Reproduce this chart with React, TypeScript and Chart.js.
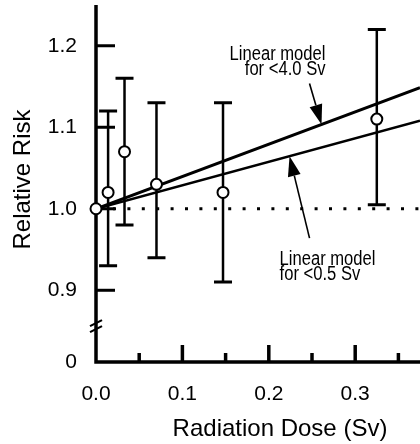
import React, { useEffect, useRef } from 'react';
import { Chart, registerables } from 'chart.js';

Chart.register(...registerables);

// ---- data ----
const doses = [0, 0.014, 0.033, 0.07, 0.147, 0.325];
const relativeRisk = [1.0, 1.02, 1.07, 1.03, 1.02, 1.11];
const ciLower = [1.0, 0.93, 0.98, 0.94, 0.91, 1.005];
const ciUpper = [1.0, 1.12, 1.16, 1.13, 1.13, 1.22];

const modelDoses = [0, 0.375];
const modelBelow4Sv = [1.0, 1.1485];
const modelBelow05Sv = [1.0, 1.108];
const referenceDoses = [0, 0.375];
const referenceRisk = [1.0, 1.0];

const xTickValues = [0, 0.1, 0.2, 0.3];
const xTickLabels = ['0.0', '0.1', '0.2', '0.3'];
const xMinorTickValues = [0.05, 0.15, 0.25, 0.35];
const yBreakValue = 0.812;
const yTickValues = [yBreakValue, 0.9, 1.0, 1.1, 1.2];
const yTickLabels = ['0', '0.9', '1.0', '1.1', '1.2'];
const yInnerTickValues = [0.9, 1.0, 1.1, 1.2];

const label4Sv = ['Linear model', 'for <4.0 Sv'];
const label05Sv = ['Linear model', 'for <0.5 Sv'];
const arrow4SvDose = 0.261;
const arrow05SvDose = 0.224;

const FONT = '"Liberation Sans", Arial, Helvetica, sans-serif';

function interp(xs: number[], ys: number[], x: number) {
  const t = (x - xs[0]) / (xs[1] - xs[0]);
  return ys[0] + t * (ys[1] - ys[0]);
}

function drawArrow(ctx: CanvasRenderingContext2D, fx: number, fy: number, tx: number, ty: number) {
  const ang = Math.atan2(ty - fy, tx - fx);
  const headLen = 20;
  const halfW = 6.5;
  const bx = tx - headLen * Math.cos(ang);
  const by = ty - headLen * Math.sin(ang);
  ctx.lineWidth = 1.6;
  ctx.beginPath();
  ctx.moveTo(fx, fy);
  ctx.lineTo(bx, by);
  ctx.stroke();
  ctx.beginPath();
  ctx.moveTo(tx, ty);
  ctx.lineTo(bx + halfW * Math.sin(ang), by - halfW * Math.cos(ang));
  ctx.lineTo(bx - halfW * Math.sin(ang), by + halfW * Math.cos(ang));
  ctx.closePath();
  ctx.fill();
}

function drawCondensed(ctx: CanvasRenderingContext2D, text: string, x: number, y: number, align: CanvasTextAlign) {
  ctx.save();
  ctx.font = `20px ${FONT}`;
  ctx.textAlign = align;
  ctx.textBaseline = 'alphabetic';
  ctx.translate(x, y);
  ctx.scale(0.83, 1);
  ctx.fillText(text, 0, 0);
  ctx.restore();
}

const paperPlugin = {
  id: 'paperPlugin',
  beforeDatasetsDraw(chart: any) {
    const { ctx, chartArea } = chart;
    const xs = chart.scales.x;
    const ys = chart.scales.y;
    ctx.save();
    ctx.strokeStyle = '#000';
    ctx.fillStyle = '#000';
    ctx.lineCap = 'butt';

    // axes
    ctx.lineWidth = 3.5;
    ctx.beginPath();
    ctx.moveTo(chartArea.left, chartArea.top);
    ctx.lineTo(chartArea.left, chartArea.bottom);
    ctx.lineTo(chartArea.right, chartArea.bottom);
    ctx.stroke();

    // y inward ticks
    ctx.lineWidth = 3;
    yInnerTickValues.forEach((v) => {
      const py = ys.getPixelForValue(v);
      ctx.beginPath();
      ctx.moveTo(chartArea.left, py);
      ctx.lineTo(chartArea.left + 19, py);
      ctx.stroke();
    });

    // x inward ticks
    ctx.lineWidth = 3.5;
    xTickValues.slice(1).forEach((v) => {
      const px = xs.getPixelForValue(v);
      ctx.beginPath();
      ctx.moveTo(px, chartArea.bottom);
      ctx.lineTo(px, chartArea.bottom - 17);
      ctx.stroke();
    });
    xMinorTickValues.forEach((v) => {
      const px = xs.getPixelForValue(v);
      ctx.beginPath();
      ctx.moveTo(px, chartArea.bottom);
      ctx.lineTo(px, chartArea.bottom - 9);
      ctx.stroke();
    });

    // axis break marks
    const breakY = (ys.getPixelForValue(0.9) + chartArea.bottom) / 2;
    ctx.lineWidth = 2.2;
    [-3, 3].forEach((off) => {
      ctx.beginPath();
      ctx.moveTo(chartArea.left - 6, breakY + off + 3);
      ctx.lineTo(chartArea.left + 6, breakY + off - 3);
      ctx.stroke();
    });

    // error bars
    doses.forEach((d, i) => {
      if (ciLower[i] === ciUpper[i]) return;
      const px = xs.getPixelForValue(d);
      const top = ys.getPixelForValue(ciUpper[i]);
      const bot = ys.getPixelForValue(ciLower[i]);
      ctx.lineWidth = 2.5;
      ctx.beginPath();
      ctx.moveTo(px, top);
      ctx.lineTo(px, bot);
      ctx.stroke();
      ctx.lineWidth = 3;
      ctx.beginPath();
      ctx.moveTo(px - 9, top);
      ctx.lineTo(px + 9, top);
      ctx.moveTo(px - 9, bot);
      ctx.lineTo(px + 9, bot);
      ctx.stroke();
    });
    ctx.restore();
  },
  afterDraw(chart: any) {
    const { ctx, chartArea } = chart;
    const xs = chart.scales.x;
    const ys = chart.scales.y;
    ctx.save();
    ctx.fillStyle = '#000';
    ctx.strokeStyle = '#000';

    // annotation: <4.0 Sv
    const t4x = xs.getPixelForValue(arrow4SvDose);
    const t4y = ys.getPixelForValue(interp(modelDoses, modelBelow4Sv, arrow4SvDose));
    const f4x = t4x - 12;
    const f4y = t4y - 41;
    drawArrow(ctx, f4x, f4y, t4x, t4y);
    drawCondensed(ctx, label4Sv[0], f4x + 16, f4y - 24, 'right');
    drawCondensed(ctx, label4Sv[1], f4x + 16, f4y - 9, 'right');

    // annotation: <0.5 Sv
    const t5x = xs.getPixelForValue(arrow05SvDose);
    const t5y = ys.getPixelForValue(interp(modelDoses, modelBelow05Sv, arrow05SvDose));
    const f5x = t5x + 20;
    const f5y = t5y + 82;
    drawArrow(ctx, f5x, f5y, t5x, t5y);
    drawCondensed(ctx, label05Sv[0], f5x - 30, f5y + 27, 'left');
    drawCondensed(ctx, label05Sv[1], f5x - 30, f5y + 42, 'left');

    // axis titles
    ctx.font = `24px ${FONT}`;
    ctx.textAlign = 'center';
    ctx.textBaseline = 'middle';
    ctx.fillText('Radiation Dose (Sv)', chartArea.left + 184, chartArea.bottom + 67);
    ctx.save();
    ctx.translate(chartArea.left - 73, (chartArea.top + chartArea.bottom) / 2 - 4);
    ctx.rotate(-Math.PI / 2);
    ctx.fillText('Relative Risk', 0, 0);
    ctx.restore();
    ctx.restore();
  },
};

export default function App() {
  const ref = useRef<HTMLCanvasElement | null>(null);
  useEffect(() => {
    if (!ref.current) return;
    const chart = new Chart(ref.current, {
      type: 'scatter',
      data: {
        datasets: [
          {
            label: 'Observed',
            data: doses.map((d, i) => ({ x: d, y: relativeRisk[i] })),
            pointRadius: 5.5,
            pointBackgroundColor: '#fff',
            pointBorderColor: '#000',
            pointBorderWidth: 2,
            showLine: false,
            order: 0,
            clip: false as any,
          },
          {
            label: 'Linear model for <4.0 Sv',
            data: modelDoses.map((d, i) => ({ x: d, y: modelBelow4Sv[i] })),
            showLine: true,
            borderColor: '#000',
            borderWidth: 3,
            pointRadius: 0,
            order: 1,
          },
          {
            label: 'Linear model for <0.5 Sv',
            data: modelDoses.map((d, i) => ({ x: d, y: modelBelow05Sv[i] })),
            showLine: true,
            borderColor: '#000',
            borderWidth: 2.5,
            pointRadius: 0,
            order: 2,
          },
          {
            label: 'Reference',
            data: referenceDoses.map((d, i) => ({ x: d, y: referenceRisk[i] })),
            showLine: true,
            borderColor: '#000',
            borderWidth: 3,
            borderDash: [3, 11.4],
            borderDashOffset: 11.8,
            pointRadius: 0,
            order: 3,
          },
        ],
      },
      options: {
        animation: false,
        responsive: false,
        devicePixelRatio: 1,
        events: [],
        layout: { autoPadding: false, padding: { top: 5, right: 0, left: 0, bottom: 0 } },
        plugins: { legend: { display: false }, tooltip: { enabled: false }, title: { display: false } },
        scales: {
          x: {
            type: 'linear',
            min: 0,
            max: 0.375,
            grid: { display: false, drawTicks: false },
            border: { display: false },
            afterBuildTicks: (s: any) => {
              s.ticks = xTickValues.map((v) => ({ value: v }));
            },
            afterFit: (s: any) => {
              s.height = 82;
              s.paddingLeft = 0;
              s.paddingRight = 0;
            },
            ticks: {
              autoSkip: false,
              maxRotation: 0,
              minRotation: 0,
              padding: 20,
              color: '#000',
              font: { family: FONT, size: 21 },
              callback: (_v: any, i: number) => xTickLabels[i],
            },
          },
          y: {
            type: 'linear',
            min: yBreakValue,
            max: 1.25,
            grid: { display: false, drawTicks: false },
            border: { display: false },
            afterBuildTicks: (s: any) => {
              s.ticks = yTickValues.map((v) => ({ value: v }));
            },
            afterFit: (s: any) => {
              s.width = 96;
              s.paddingTop = 0;
              s.paddingBottom = 0;
            },
            ticks: {
              autoSkip: false,
              padding: 19,
              color: '#000',
              font: { family: FONT, size: 21 },
              callback: (_v: any, i: number) => yTickLabels[i],
            },
          },
        },
      } as any,
      plugins: [paperPlugin],
    });
    return () => chart.destroy();
  }, []);

  return (
    <div style={{ position: 'fixed', left: 0, top: 0, width: 420, height: 444, background: '#fff' }}>
      <canvas ref={ref} width={420} height={444} style={{ display: 'block' }} />
    </div>
  );
}
